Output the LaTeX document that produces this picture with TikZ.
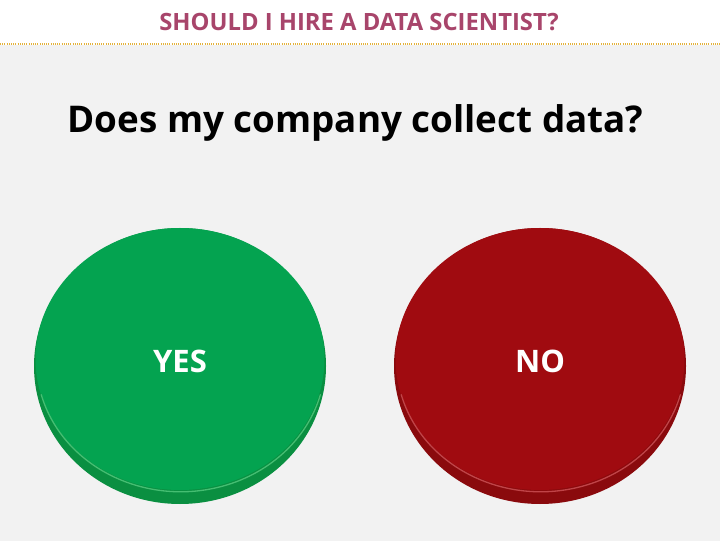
\documentclass[tikz,border=0pt]{standalone}
\usepackage{fontspec}
\setmainfont{Open Sans}
\usetikzlibrary{shapes.geometric}
\definecolor{titlecol}{HTML}{A8456B}
\definecolor{dotcol}{HTML}{E3B23C}
\definecolor{bggray}{HTML}{F2F2F2}
\definecolor{greenface}{HTML}{04A350}
\definecolor{greenrim}{HTML}{0A8F41}
\definecolor{greenshine}{HTML}{45BE72}
\definecolor{redface}{HTML}{A00B10}
\definecolor{redrim}{HTML}{8A0A0D}
\definecolor{redshine}{HTML}{C04448}
\tikzset{
  x=1pt, y=1pt,
  rim/.style={ellipse, draw=none, minimum width=292pt, minimum height=276pt, inner sep=0pt},
  face/.style={ellipse, draw=none, minimum width=289pt, minimum height=262pt, inner sep=0pt},
  btnlabel/.style={inner sep=0pt, font=\bfseries\fontsize{31}{31}\selectfont, text=white},
  shine/.style={line width=1.3pt, line cap=round},
}
\begin{document}
\begin{tikzpicture}
\useasboundingbox (0,0) rectangle (720,541);
\fill[white] (0,497) rectangle (720,541);
\fill[bggray] (0,0) rectangle (720,496);
\coordinate (dl) at (0,497);
\coordinate (dr) at (720,497);
\draw[dotcol, line width=1.2pt, dash pattern=on 1pt off 1.2pt] (dl) -- (dr);
\node[anchor=base, text=titlecol, font=\bfseries\fontsize{23.8}{24}\selectfont, inner sep=0pt] (title) at (359,510) {SHOULD I HIRE A DATA SCIENTIST?};
\node[anchor=base, font=\bfseries\fontsize{36.8}{37}\selectfont, inner sep=0pt] (question) at (355.5,408) {Does my company collect data?};
% YES
\node[rim, fill=greenrim] (yesrim) at (180,175) {};
\node[face, fill=greenface] (yes) at (180,182) {};
\draw[shine, greenshine] ([shift={(0,1.5)}]yes.195) arc[x radius=144.5pt, y radius=131pt, start angle=195, end angle=345];
\node[btnlabel, anchor=base] (yestext) at (180,168) {YES};
% NO
\node[rim, fill=redrim] (norim) at (540,175) {};
\node[face, fill=redface] (no) at (540,182) {};
\draw[shine, redshine] ([shift={(0,1.5)}]no.195) arc[x radius=144.5pt, y radius=131pt, start angle=195, end angle=345];
\node[btnlabel, anchor=base] (notext) at (540,168) {NO};
\end{tikzpicture}
\end{document}
